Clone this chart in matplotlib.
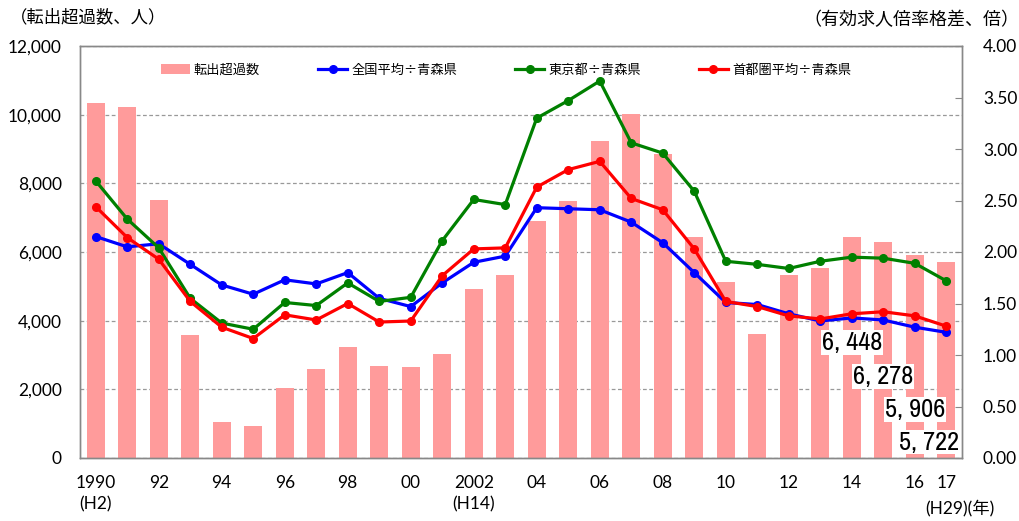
import numpy as np
import matplotlib.pyplot as plt
from matplotlib import font_manager as fm
from matplotlib.ticker import FuncFormatter, MultipleLocator

plt.rcParams['font.family'] = ['Lato', 'Noto Sans CJK JP', 'DejaVu Sans']

years = list(range(1990, 2018))
tick_years = [1990, 1992, 1994, 1996, 1998, 2000, 2002, 2004, 2006, 2008,
              2010, 2012, 2014, 2016, 2017]
tick_labels = ['1990\n(H2)', '92', '94', '96', '98', '00', '2002\n(H14)',
               '04', '06', '08', '10', '12', '14', '16', '17']

# 転出超過数 (persons)
net_outflow = [10340, 10230, 7525, 3575, 1046, 930, 2034, 2586, 3225, 2673,
               2644, 3022, 4910, 5317, 6900, 7487, 9239, 10015, 8861, 6430,
               5113, 3603, 5317, 5529, 6448, 6278, 5906, 5722]

# job-offer ratio gaps
nation_ratio = [2.15, 2.05, 2.08, 1.88, 1.68, 1.59, 1.73, 1.69, 1.80, 1.55,
                1.47, 1.70, 1.90, 1.96, 2.43, 2.42, 2.41, 2.29, 2.09, 1.80,
                1.51, 1.49, 1.40, 1.33, 1.36, 1.34, 1.27, 1.22]
tokyo_ratio = [2.69, 2.32, 2.04, 1.55, 1.31, 1.25, 1.51, 1.48, 1.70, 1.52,
               1.56, 2.11, 2.51, 2.46, 3.30, 3.47, 3.66, 3.06, 2.96, 2.59,
               1.91, 1.88, 1.84, 1.91, 1.95, 1.94, 1.89, 1.72]
capital_ratio = [2.44, 2.14, 1.93, 1.52, 1.27, 1.16, 1.39, 1.34, 1.50, 1.32,
                 1.33, 1.77, 2.03, 2.04, 2.63, 2.80, 2.88, 2.52, 2.41, 2.03,
                 1.52, 1.47, 1.38, 1.35, 1.40, 1.42, 1.38, 1.28]

labelled_years = [2014, 2015, 2016, 2017]
label_offsets = [3370, 2380, 1420, 465]   # where the value boxes sit (left axis units)
label_xshift = [0, 0, 0, -0.55]


def _plain(f):
    return f.style == 'normal' and f.weight in (400, 'normal', 'regular', 'book')


def narrow_font(size):
    # look for an upright condensed / narrow face for the value boxes
    for f in fm.fontManager.ttflist:
        if ('Narrow' in f.name or 'Condensed' in f.name) and _plain(f):
            return fm.FontProperties(fname=f.fname, size=size)
    for f in fm.fontManager.ttflist:
        if f.stretch in ('condensed', 'semi-condensed') and _plain(f) and 'Mono' not in f.name:
            return fm.FontProperties(fname=f.fname, size=size)
    return fm.FontProperties(family='DejaVu Sans', size=size - 2)


fig = plt.figure(figsize=(10.19, 5.21), dpi=100)
ax = fig.add_axes([80 / 1019, 63 / 521, 882 / 1019, 412 / 521])
ax2 = ax.twinx()

bars = ax.bar(years, net_outflow, width=0.56, color='#ff9b9b', label='転出超過数', zorder=2)
ax.set_xlim(1989.5, 2017.5)
ax.set_ylim(0, 12000)
ax.yaxis.set_major_locator(MultipleLocator(2000))
ax.yaxis.set_major_formatter(FuncFormatter(lambda v, p: f'{int(v):,}'))
ax.grid(axis='y', color='#999999', linestyle=(0, (3, 2)), linewidth=0.9, zorder=0)
ax.set_axisbelow(True)
ax.set_xticks(tick_years)
ax.set_xticklabels(tick_labels, linespacing=1.45)
ax.tick_params(axis='x', length=0, pad=12, labelsize=12.5)
ax.tick_params(axis='y', length=0, pad=13, labelsize=12.5)

lw = 2.3
ms = 5.5
l1, = ax2.plot(years, nation_ratio, color='#0000ff', lw=lw, marker='o', ms=ms, label='全国平均÷青森県')
l2, = ax2.plot(years, tokyo_ratio, color='#008000', lw=lw, marker='o', ms=ms, label='東京都÷青森県')
l3, = ax2.plot(years, capital_ratio, color='#ff0000', lw=lw, marker='o', ms=ms, label='首都圏平均÷青森県')
ax2.set_ylim(0, 4)
ax2.yaxis.set_major_locator(MultipleLocator(0.5))
ax2.yaxis.set_major_formatter(FuncFormatter(lambda v, p: f'{v:.2f}'))
ax2.tick_params(axis='y', direction='in', length=5, color='#888888', pad=15, labelsize=12.5)

for a in (ax, ax2):
    for s in a.spines.values():
        s.set_color('#888888')
        s.set_linewidth(1)

nf = narrow_font(19)
for yr, off, dx in zip(labelled_years, label_offsets, label_xshift):
    val = net_outflow[years.index(yr)]
    ax.text(yr + dx, off, f'{val:,}'.replace(',', ', '), ha='center', va='center',
            fontproperties=nf,
            bbox=dict(facecolor='white', edgecolor='none', pad=0.5), zorder=5)

fig.legend([bars, l1, l2, l3], [bars.get_label(), l1.get_label(), l2.get_label(), l3.get_label()],
           loc='center left', bbox_to_anchor=(161 / 1019, 1 - 70 / 521), ncol=4,
           frameon=False, prop={'family': 'Noto Sans CJK JP', 'size': 9.5},
           borderpad=0, borderaxespad=0,
           handlelength=2.2, handletextpad=0.3, columnspacing=4.4)

fig.text(10 / 1019, 1 - 17 / 521, '（転出超過数、人）', fontsize=12.5, va='center', ha='left')
fig.text(1019 / 1019, 1 - 19 / 521, '（有効求人倍率格差、倍）', fontsize=13, va='center', ha='right')
fig.text(925 / 1019, 1 - 508 / 521, '(H29)(年)', fontsize=12.5, va='center', ha='left')

fig.savefig('out.png', dpi=100)
